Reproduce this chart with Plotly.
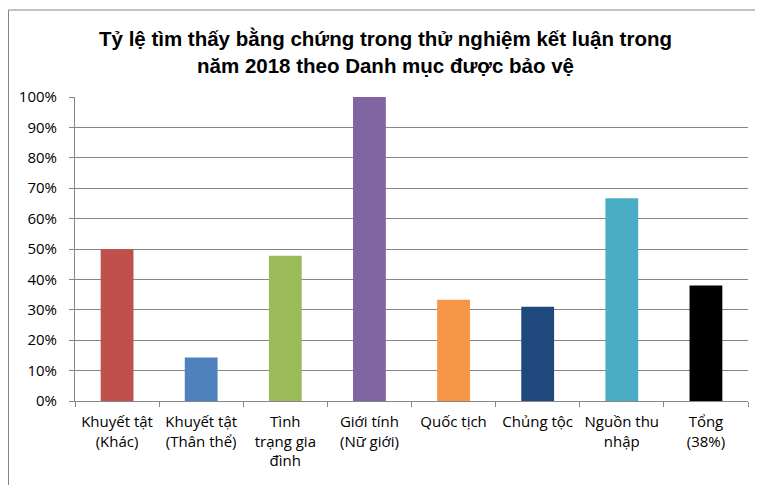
import plotly.graph_objects as go

categories = ["Khuyết tật<br>(Khác)", "Khuyết tật<br>(Thân thể)", "Tình<br>trạng gia<br>đình",
              "Giới tính<br>(Nữ giới)", "Quốc tịch", "Chủng tộc", "Nguồn thu<br>nhập", "Tổng<br>(38%)"]
values = [0.50, 0.143, 0.478, 1.00, 0.333, 0.31, 0.667, 0.38]
colors = ["#C0504D", "#4F81BD", "#9BBB59", "#8064A2", "#F79646", "#1F497D", "#4BACC6", "#000000"]
title_text = "<b>Tỷ lệ tìm thấy bằng chứng trong thử nghiệm kết luận trong<br>năm 2018 theo Danh mục được bảo vệ</b>"

fig = go.Figure(go.Bar(x=categories, y=values, marker=dict(color=colors, line=dict(width=0)),
                       showlegend=False))

W, H = 755, 477
PW, PH = 673, 304
fig.update_layout(
    width=W, height=H,
    margin=dict(l=67, r=15, t=89, b=84),
    paper_bgcolor="white", plot_bgcolor="white",
    bargap=0.61,
    title=dict(text=title_text, x=0.5, xanchor="center", xref="container",
               y=1 - 38 / H, yanchor="top", yref="container",
               font=dict(family="Liberation Sans, Arial, sans-serif", size=20.5, color="black")),
    font=dict(family="Open Sans, Calibri, sans-serif", size=14, color="black"),
    xaxis=dict(showline=True, linecolor="#868686", linewidth=1, ticks="outside", tickson="boundaries",
               ticklen=5, tickcolor="#868686", showgrid=False, tickangle=0,
               ticklabelstandoff=7,
               tickfont=dict(size=15)),
    yaxis=dict(range=[0, 1], dtick=0.1, tickformat=".0%", showline=True, linecolor="#868686",
               linewidth=1, ticks="outside", ticklen=5, tickcolor="#868686",
               showgrid=True, gridcolor="#868686", gridwidth=1, zeroline=False,
               ticklabelstandoff=9,
               tickfont=dict(size=15)),
    shapes=[dict(type="rect", xref="paper", yref="paper",
                 x0=-66.5 / PW, x1=1 + 8.5 / PW, y0=-100 / PH, y1=1 + 87 / PH,
                 line=dict(color="#868686", width=1), fillcolor="rgba(0,0,0,0)", layer="below")],
)

fig.write_html("out.html")
